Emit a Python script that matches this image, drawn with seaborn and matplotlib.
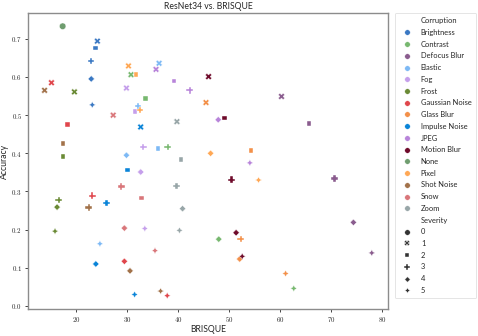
import matplotlib
matplotlib.use("Agg")
import matplotlib.pyplot as plt
import pandas as pd
import seaborn as sns
from matplotlib.ticker import FuncFormatter

# corruption types, each measured at severities 1..5
corruption_names = ["Brightness", "Contrast", "Defocus Blur", "Elastic", "Fog", "Frost",
                    "Gaussian Noise", "Glass Blur", "Impulse Noise", "JPEG", "Motion Blur",
                    "Pixel", "Shot Noise", "Snow", "Zoom"]
severities = [1, 2, 3, 4, 5]

brisque_scores = [
    [24.1, 23.7, 22.9, 22.9, 23.1],    # Brightness
    [30.7, 33.5, 37.9, 47.9, 62.6],    # Contrast
    [60.2, 65.6, 70.6, 74.3, 77.9],    # Defocus Blur
    [36.2, 36.0, 32.1, 29.8, 24.6],    # Elastic
    [29.8, 31.5, 33.1, 32.6, 33.4],    # Fog
    [19.6, 17.4, 16.5, 16.2, 15.8],    # Frost
    [15.1, 18.3, 23.1, 29.4, 37.8],    # Gaussian Noise
    [45.4, 54.2, 52.2, 52.0, 61.0],    # Glass Blur
    [32.6, 30.0, 25.9, 23.8, 31.4],    # Impulse Noise
    [35.6, 39.1, 42.2, 47.8, 54.0],    # JPEG
    [45.9, 49.0, 50.4, 51.3, 52.5],    # Motion Blur
    [30.2, 31.65, 32.5, 46.3, 55.7],   # Pixel
    [13.75, 17.4, 22.4, 30.5, 36.5],   # Shot Noise
    [27.2, 32.8, 28.8, 29.4, 35.4],    # Snow
    [39.7, 40.5, 39.6, 40.8, 40.2],    # Zoom
]
accuracies = [
    [0.694, 0.676, 0.642, 0.595, 0.527],
    [0.606, 0.544, 0.417, 0.175, 0.046],
    [0.549, 0.478, 0.334, 0.219, 0.139],
    [0.636, 0.413, 0.523, 0.395, 0.163],
    [0.571, 0.509, 0.416, 0.351, 0.203],
    [0.561, 0.392, 0.278, 0.259, 0.196],
    [0.585, 0.476, 0.289, 0.117, 0.027],
    [0.533, 0.407, 0.175, 0.123, 0.085],
    [0.469, 0.356, 0.270, 0.110, 0.030],
    [0.620, 0.590, 0.565, 0.488, 0.375],
    [0.601, 0.493, 0.331, 0.192, 0.130],
    [0.629, 0.606, 0.513, 0.400, 0.330],
    [0.565, 0.426, 0.258, 0.092, 0.039],
    [0.500, 0.283, 0.313, 0.204, 0.145],
    [0.483, 0.383, 0.314, 0.255, 0.198],
]
# clean images
clean_brisque = 17.3
clean_accuracy = 0.733

palette = {
    "Brightness": "#3a78c3", "Contrast": "#77b86f", "Defocus Blur": "#8a5c8e",
    "Elastic": "#7db9f5", "Fog": "#c59feb", "Frost": "#6a8a35",
    "Gaussian Noise": "#e0464c", "Glass Blur": "#f39049", "Impulse Noise": "#0a84d8",
    "JPEG": "#b884da", "Motion Blur": "#6e0a2a", "None": "#6f9d6f",
    "Pixel": "#ffa855", "Shot Noise": "#a2724a", "Snow": "#d9767a", "Zoom": "#98a6a8",
}

rows = [{"Corruption": "None", "Severity": 0, "BRISQUE": clean_brisque, "Accuracy": clean_accuracy}]
for name, bs, accs in zip(corruption_names, brisque_scores, accuracies):
    for sev, b, a in zip(severities, bs, accs):
        rows.append({"Corruption": name, "Severity": sev, "BRISQUE": b, "Accuracy": a})
df = pd.DataFrame(rows)

sns.set_style("ticks", {"axes.edgecolor": ".55"})
plt.rcParams["font.family"] = ["Lato", "DejaVu Sans"]
plt.rcParams["mathtext.fontset"] = "cm"

fig, ax = plt.subplots(figsize=(4.78, 3.36), dpi=100)
fig.subplots_adjust(left=0.059, right=0.812, bottom=0.08, top=0.962)

sns.scatterplot(data=df, x="BRISQUE", y="Accuracy", hue="Corruption", style="Severity",
                hue_order=sorted(palette), palette=palette, s=22, linewidth=0.3, ax=ax)

ax.set_title("ResNet34 vs. BRISQUE", fontsize=6.2, pad=3)
ax.set_xlabel("BRISQUE", fontsize=6.2, labelpad=0.5)
ax.set_ylabel("Accuracy", fontsize=6.2, labelpad=1.5)
ax.set_xticks([20, 30, 40, 50, 60, 70, 80])
ax.xaxis.set_major_formatter(FuncFormatter(lambda v, p: f"${v:.0f}$"))
ax.yaxis.set_major_formatter(FuncFormatter(lambda v, p: f"${v:.1f}$"))
ax.tick_params(labelsize=5, length=2.5, width=0.6, pad=2)
for sp in ax.spines.values():
    sp.set_linewidth(1.0)

leg = ax.legend(loc="upper left", bbox_to_anchor=(1.018, 1.0), borderaxespad=0,
                fontsize=5.4, labelspacing=0.63, handletextpad=0.9, markerscale=0.85,
                borderpad=0.6, frameon=True, edgecolor="0.85")
leg.get_frame().set_linewidth(0.6)

fig.savefig("out.png", dpi=100)
